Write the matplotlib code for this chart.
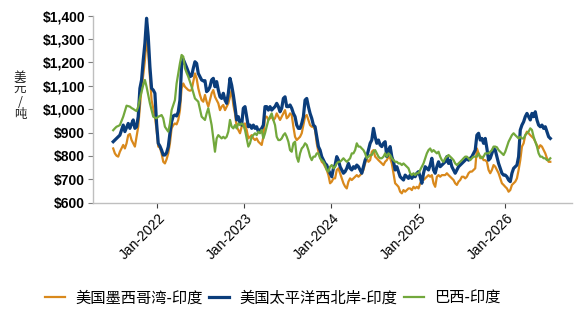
import matplotlib
matplotlib.use('Agg')
import matplotlib.pyplot as plt
import matplotlib.transforms as mtransforms
from matplotlib.ticker import FuncFormatter
import pandas as pd

start_date = '2021-06-30'

gulf_india = [
    832, 811, 801, 797, 818, 832, 847, 832, 854, 889, 894, 868, 854, 840, 882, 925, 1011, 1089, 1146, 1210,
    1296, 1239, 1139, 1039, 1004, 968, 911, 840, 835, 811, 775, 768, 786, 811, 854, 918, 932, 939, 935, 954,
    996, 1089, 1110, 1096, 1089, 1082, 1079, 1082, 1118, 1153, 1132, 1089, 1061, 1039, 1032, 1061,
    1032, 1011, 1039, 1068, 1082, 1053, 1039, 1025, 996, 1011, 1018, 996, 1011, 1025, 1053, 1082, 1018, 982, 925, 911,
    897, 925, 932, 939, 911, 875, 882, 889, 875, 868, 875, 861, 854, 847, 882, 968, 968, 954, 961, 968,
    954, 961, 982, 968, 954, 968, 982, 996, 961, 968, 982, 975, 925, 882,
    868, 875, 882, 897, 932, 968, 975, 954, 932, 925, 925, 911, 854, 818, 797, 775, 768, 754, 740, 718,
    683, 690, 704, 704, 740, 747, 726, 704, 683, 669, 661, 690, 704, 697, 704, 711, 718, 711, 718, 726,
    740, 768, 790, 775, 782, 818, 825, 797, 790, 782, 775, 768, 761, 775,
    782, 797, 790, 768, 726, 683, 676, 668, 647, 640, 654, 647, 654, 661, 661, 654, 668, 661, 668, 661,
    683, 697, 697, 704, 711, 718, 711, 718, 683, 668, 711, 718, 711, 718, 718, 718, 726, 718, 711, 704,
    697, 683, 676, 690, 697, 711, 711, 704, 711, 726, 733, 733, 740, 747,
    832, 811, 790, 797, 782, 782, 775, 740, 726, 740, 761, 754, 740, 726, 704, 683, 676, 668, 661, 647,
    654, 676, 683, 690, 704, 740, 782, 840, 854, 889, 904, 897, 889, 882, 875, 861, 846, 832, 846, 840,
    825, 811, 790, 775, 775,
]

pnw_india = [
    861, 868, 875, 882, 889, 911, 932, 904, 922, 939, 918, 937, 954, 918, 925, 968, 1089, 1125, 1210, 1282,
    1389, 1310, 1182, 1089, 1082, 1068, 939, 854, 842, 825, 804, 804, 814, 839, 897, 946, 971, 975, 971, 989,
    1039, 1189, 1213, 1196, 1179, 1160, 1139, 1143, 1175, 1203, 1196, 1153, 1139, 1125, 1121, 1122,
    1075, 1082, 1096, 1125, 1132, 1096, 1118, 1082, 1053, 1046, 1068, 1039, 1025, 1068, 1132, 1103, 1061, 1011, 954, 968,
    939, 932, 1004, 1011, 968, 925, 932, 918, 932, 918, 925, 904, 911, 918, 932, 1011, 1011, 996, 1011, 996,
    1004, 1011, 1025, 1011, 989, 1004, 1046, 1053, 1011, 1011, 1018, 1004, 982, 968,
    932, 918, 918, 939, 968, 1039, 1046, 1011, 982, 961, 932, 925, 882, 840, 825, 797, 782, 768, 761, 740,
    726, 711, 747, 761, 797, 782, 754, 740, 726, 733, 747, 768, 747, 740, 754, 747, 761, 754, 740, 726,
    754, 782, 797, 825, 854, 868, 918, 882, 854, 868, 847, 840, 854, 861,
    797, 825, 840, 797, 775, 740, 754, 733, 711, 704, 697, 718, 711, 704, 718, 704, 718, 711, 726, 733,
    711, 683, 726, 754, 747, 740, 761, 790, 740, 726, 754, 775, 754, 761, 768, 775, 797, 768, 782, 754,
    740, 726, 740, 754, 761, 768, 775, 782, 790, 782, 790, 797, 811, 825,
    889, 897, 868, 875, 854, 875, 832, 782, 790, 811, 832, 825, 797, 768, 747, 726, 718, 718, 711, 697,
    690, 726, 747, 754, 761, 797, 911, 932, 946, 968, 982, 968, 954, 982, 968, 989, 954, 932, 925, 932,
    918, 925, 904, 882, 875,
]

brazil_india = [
    910, 918, 925, 928, 932, 950, 968, 992, 1015, 1013, 1011, 1005, 1001, 996, 992, 1011, 1046, 1075, 1103, 1125,
    1096, 1061, 1025, 996, 968, 964, 961, 968, 971, 975, 961, 925, 914, 904, 939, 996, 1018, 1039, 1110, 1153,
    1196, 1232, 1225, 1175, 1156, 1139, 1118, 1096, 1071, 1046, 1039, 1032, 999, 968, 961, 954,
    982, 1004, 968, 932, 875, 818, 875, 889, 882, 875, 882, 875, 882, 904, 954, 925, 918, 932, 918, 939,
    932, 939, 932, 911, 875, 840, 854, 882, 889, 897, 889, 904, 897, 911, 875, 897, 925, 954, 968, 982,
    954, 932, 882, 868, 868, 875, 889, 897, 882, 861, 825, 818, 854, 861,
    796, 775, 811, 832, 840, 854, 847, 825, 797, 782, 797, 797, 811, 811, 790, 782, 775, 761, 740, 733,
    754, 761, 747, 754, 768, 775, 775, 782, 790, 782, 775, 782, 790, 811, 811, 825, 854, 840, 840, 832,
    825, 811, 790, 797, 804, 804, 818, 825, 811, 797, 790, 790, 797, 811,
    797, 811, 804, 790, 782, 775, 775, 768, 768, 761, 768, 761, 754, 747, 726, 718, 726, 718, 726, 726,
    740, 754, 768, 790, 811, 825, 832, 818, 825, 818, 811, 818, 797, 782, 775, 790, 797, 804, 797, 790,
    782, 768, 761, 768, 775, 782, 790, 797, 797, 790, 782, 790, 797, 797,
    797, 811, 797, 790, 797, 811, 811, 811, 818, 825, 840, 840, 837, 825, 818, 811, 804, 818, 840, 861,
    875, 889, 897, 889, 882, 875, 882, 875, 875, 889, 897, 904, 918, 911, 882, 861, 840, 811, 797, 797,
    790, 790, 782, 782, 790,
]

series_names = ['美国墨西哥湾-印度', '美国太平洋西北岸-印度', '巴西-印度']
series_colors = ['#D9891C', '#0B3D7B', '#72A83C']
y_ticks = [600, 700, 800, 900, 1000, 1100, 1200, 1300, 1400]
x_tick_years = [2022, 2023, 2024, 2025, 2026]
y_label = '美元/吨'

# ---------------- figure ----------------
dates = pd.date_range(start_date, periods=len(gulf_india), freq='7D')

fig = plt.figure(figsize=(5.78, 3.17), dpi=100)
ax = fig.add_axes([0.1604, 0.3606, 0.8292, 0.5899])

l1, = ax.plot(dates, gulf_india, color=series_colors[0], lw=1.6, zorder=2)
l2, = ax.plot(dates, pnw_india, color=series_colors[1], lw=2.3, zorder=3)
l3, = ax.plot(dates, brazil_india, color=series_colors[2], lw=1.6, zorder=4)

ax.set_ylim(600, 1400)
ax.set_xlim(pd.Timestamp('2021-04-05'), pd.Timestamp('2026-10-07'))

for s in ['top', 'right']:
    ax.spines[s].set_visible(False)
for s in ['left', 'bottom']:
    ax.spines[s].set_color('#BFBFBF')
    ax.spines[s].set_linewidth(1.0)

ax.set_yticks(y_ticks)
ax.yaxis.set_major_formatter(FuncFormatter(lambda v, p: '${:,.0f}'.format(v)))
ax.tick_params(axis='y', length=3.5, width=0.8, color='#7F7F7F', pad=2)
for lab in ax.get_yticklabels():
    lab.set_fontfamily('Liberation Sans')
    lab.set_fontweight('bold')
    lab.set_fontsize(10)

xt = [pd.Timestamp(f'{y}-01-01') for y in x_tick_years]
ax.set_xticks(xt)
ax.set_xticklabels([f'Jan-{y}' for y in x_tick_years])
ax.tick_params(axis='x', length=3.5, width=0.8, color='#404040', pad=6)
offset = mtransforms.ScaledTranslation(0.06, 0, fig.dpi_scale_trans)
for lab in ax.get_xticklabels():
    lab.set_fontfamily('Liberation Sans')
    lab.set_fontsize(10)
    lab.set_rotation(45)
    lab.set_rotation_mode('anchor')
    lab.set_ha('right')
    lab.set_va('center')
    lab.set_transform(lab.get_transform() + offset)

# vertical y-axis title: one text, characters stacked upright
fig.text(20 / 578, 1 - 96 / 317, '\n'.join(y_label), ha='center', va='center',
         fontsize=9, linespacing=0.95, family=['Noto Sans CJK SC', 'DejaVu Sans'],
         color='#222222')

fig.legend([l1, l2, l3], series_names, loc='center', bbox_to_anchor=(0.472, 0.06),
           ncol=3, frameon=False, prop={'family': ['Noto Sans CJK SC', 'DejaVu Sans'], 'size': 11},
           handlelength=1.3, handletextpad=0.7, columnspacing=0.4, borderpad=0)

fig.savefig('out.png', dpi=100)
